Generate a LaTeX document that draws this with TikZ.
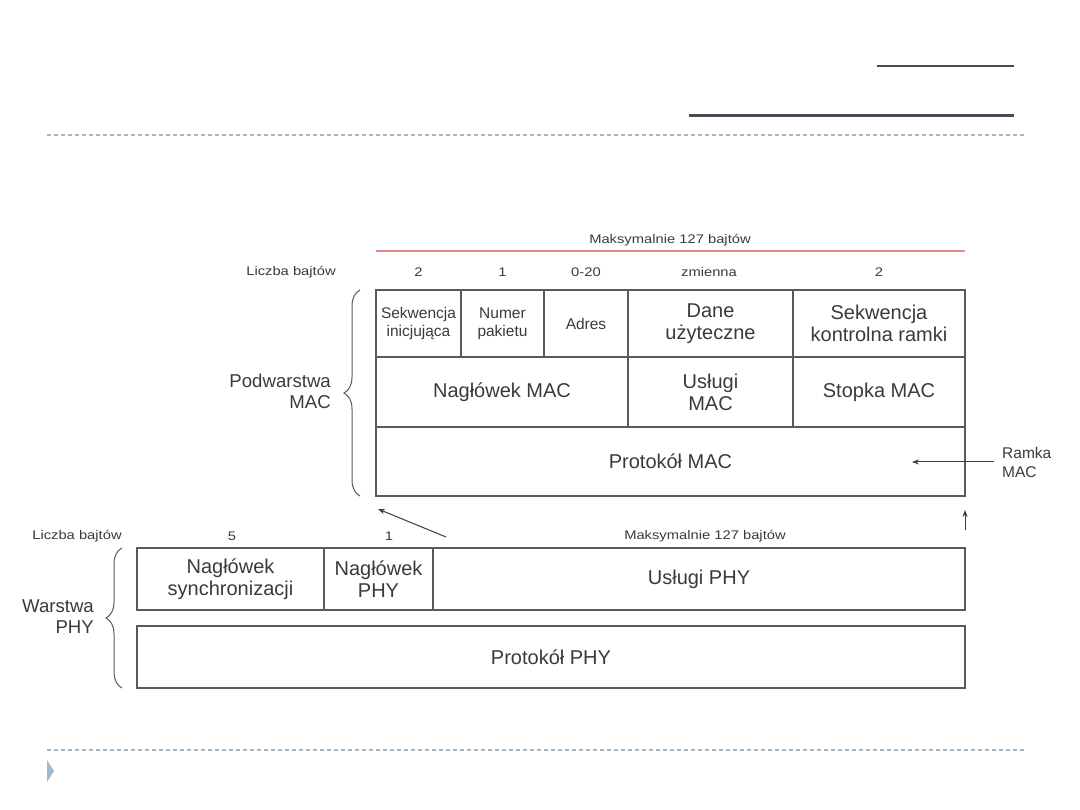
\documentclass[tikz,border=0pt]{standalone}
\usepackage{fontspec}
\setmainfont{Liberation Sans}
\newfontfamily\widefont[FakeStretch=1.18]{Liberation Sans}
\usetikzlibrary{decorations.pathreplacing,arrows.meta}
\definecolor{boxline}{HTML}{5A5A5A}
\definecolor{txt}{HTML}{3A3A3A}
\definecolor{titlebar}{HTML}{4A4A55}
\definecolor{sep}{HTML}{9FB8CA}
\definecolor{redline}{HTML}{E58A8A}
\tikzset{
  cell/.style={draw=boxline, line width=1.1pt, rectangle, inner sep=1pt, align=center, text=txt},
  big/.style={font=\fontsize{20}{22}\selectfont},
  mid/.style={font=\fontsize{15.5}{18}\selectfont},
  side/.style={font=\fontsize{18.6}{21}\selectfont},
  small/.style={font=\widefont\fontsize{12.5}{15}\selectfont},
  ramk/.style={font=\fontsize{15.5}{19}\selectfont},
  lbl/.style={text=txt, inner sep=0pt, align=center},
  arr/.style={draw=txt, line width=1pt, -{Stealth[length=7pt,width=5pt]}},
  brace/.style={draw=boxline, line width=1pt, decorate, decoration={brace, amplitude=16pt}},
  sepline/.style={draw=sep, line width=1.2pt, dash pattern=on 4pt off 3pt},
}
\begin{document}
\begin{tikzpicture}[x=1pt,y=-1pt]
\useasboundingbox (0,0) rectangle (1080,810);
% header decoration
\draw[titlebar, line width=2.5pt] (877,66) -- (1014,66);
\draw[titlebar, line width=3pt] (689,116) -- (1014,116);
\draw[sepline] (47,135) -- (1025,135);
\draw[sepline] (47,750) -- (1025,750);
\fill[sep] (47,760) -- (54,771) -- (47,782) -- cycle;

% MAC frame
\node[lbl, small] (maxmac) at (670,240) {Maksymalnie 127 bajtów};
\draw[redline, line width=1.5pt] (376,251) -- (965,251);
\node[lbl, small] (lbmac) at (291,272) {Liczba bajtów};
\node[lbl, small] (n1) at (418.5,272) {2};
\node[lbl, small] (n2) at (502.5,272) {1};
\node[lbl, small] (n3) at (586,272) {0-20};
\node[lbl, small] (n4) at (709,272) {zmienna};
\node[lbl, small] (n5) at (879,272) {2};

\node[cell, mid, minimum width=85pt, minimum height=67pt] (c11) at (418.5,323.5) {Sekwencja\\inicjująca};
\node[cell, mid, minimum width=83pt, minimum height=67pt] (c12) at (502.5,323.5) {Numer\\pakietu};
\node[cell, mid, minimum width=84pt, minimum height=67pt] (c13) at (586,323.5) {Adres};
\node[cell, big, minimum width=165pt, minimum height=67pt] (c14) at (710.5,323.5) {Dane\\użyteczne};
\node[cell, big, minimum width=172pt, minimum height=67pt] (c15) at (879,323.5) {Sekwencja\\kontrolna ramki};

\node[cell, big, minimum width=252pt, minimum height=70pt] (c21) at (502,392) {Nagłówek MAC};
\node[cell, big, minimum width=165pt, minimum height=70pt] (c22) at (710.5,392) {Usługi\\MAC};
\node[cell, big, minimum width=172pt, minimum height=70pt] (c23) at (879,392) {Stopka MAC};

\node[cell, big, minimum width=589pt, minimum height=69pt] (c31) at (670.5,461.5) {Protokół MAC};

\draw[brace] (360,496) -- (360,290);
\node[lbl, side, align=right, anchor=east] (podw) at (331,391) {Podwarstwa\\MAC};

\node[lbl, ramk, align=left, anchor=west] (ramka) at (1002,462) {Ramka\\MAC};
\coordinate (ramkatail) at (994,462);
\coordinate (ramkahead) at (912,462);
\draw[arr] (ramkatail) -- (ramkahead);

% PHY frame
\node[lbl, small] (lbphy) at (77,536) {Liczba bajtów};
\node[lbl, small] (m1) at (232,536) {5};
\node[lbl, small] (m2) at (389,536) {1};
\node[lbl, small] (maxphy) at (705,536) {Maksymalnie 127 bajtów};

\node[cell, big, minimum width=187pt, minimum height=62pt] (p11) at (230.5,579) {Nagłówek\\synchronizacji};
\node[cell, big, minimum width=109pt, minimum height=62pt] (p12) at (378.5,579) {Nagłówek\\PHY};
\node[cell, big, minimum width=532pt, minimum height=62pt] (p13) at (699,579) {Usługi PHY};
\node[cell, big, minimum width=828pt, minimum height=62pt] (p21) at (551,657) {Protokół PHY};

\draw[brace] (122,688) -- (122,548);
\node[lbl, side, align=right, anchor=east] (warstwa) at (94,617) {Warstwa\\PHY};

\coordinate (a1t) at (446,537);
\coordinate (a1h) at (378,509);
\draw[arr] (a1t) -- (a1h);
\coordinate (a2t) at (965,530);
\coordinate (a2h) at (965,510);
\draw[arr] (a2t) -- (a2h);
\end{tikzpicture}
\end{document}
